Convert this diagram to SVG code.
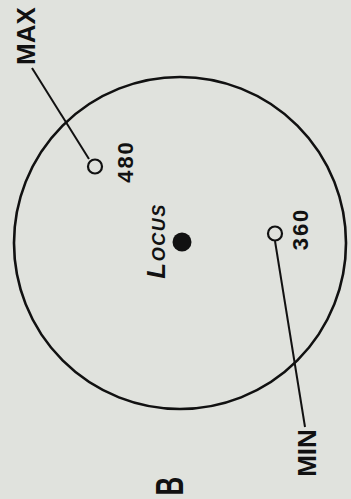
<svg xmlns="http://www.w3.org/2000/svg" width="351" height="499" viewBox="0 0 351 499">
<style>
.ln{stroke:#111;stroke-width:2;fill:none}
.lbl{font-family:"Liberation Sans",Arial,sans-serif;font-weight:bold;fill:#111}
.pt{fill:none;stroke:#111;stroke-width:2.2}
</style>
<rect width="351" height="499" fill="#e0e2dd"/>
<g id="connectors">
<line class="ln" x1="32" y1="68" x2="89" y2="159"/>
<line class="ln" x1="275" y1="241" x2="305" y2="427"/>
</g>
<g id="boundary"><circle cx="180" cy="243" r="166" fill="none" stroke="#111" stroke-width="2.6"/></g>
<g id="locus">
<circle cx="182" cy="242" r="9.5" fill="#111"/>
<text class="lbl" transform="translate(165,241) rotate(-90)" text-anchor="middle" font-style="italic" letter-spacing="1.5"><tspan font-size="26">L</tspan><tspan font-size="18">OCUS</tspan></text>
</g>
<g id="max">
<text class="lbl" transform="translate(35,36) rotate(-90)" text-anchor="middle" font-size="26">MAX</text>
</g>
<g id="p480">
<circle class="pt" cx="95" cy="166.5" r="7"/>
<text class="lbl" transform="translate(133,161.5) rotate(-90)" text-anchor="middle" font-size="22" letter-spacing="2">480</text>
</g>
<g id="p360">
<circle class="pt" cx="275" cy="233.5" r="7"/>
<text class="lbl" transform="translate(308,229) rotate(-90)" text-anchor="middle" font-size="22" letter-spacing="2">360</text>
</g>
<g id="min">
<text class="lbl" transform="translate(316,453) rotate(-90)" text-anchor="middle" font-size="26">MIN</text>
</g>
<g id="label-b">
<text class="lbl" transform="translate(183,486) rotate(-90) scale(1,1.5)" text-anchor="middle" font-size="26">B</text>
</g>
</svg>
